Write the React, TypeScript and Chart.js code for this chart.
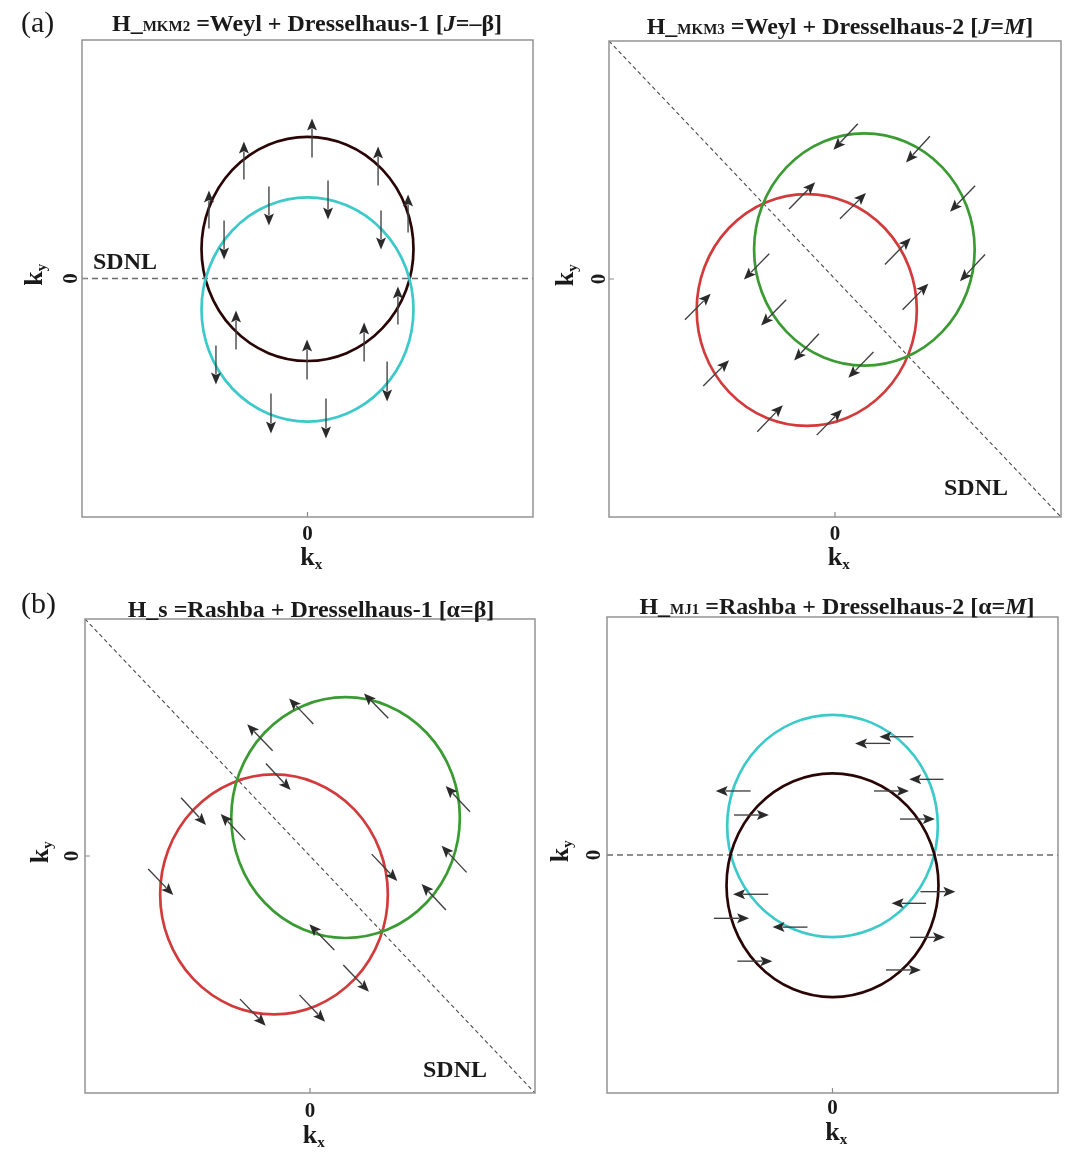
import React, { useEffect, useRef } from "react";
import { Chart, registerables } from "chart.js";

Chart.register(...registerables);

const FONT = '"Liberation Serif", "Times New Roman", serif';

// ---------- shared axis data ----------
const axisMin = -1;
const axisMax = 1;
const tickValues = [0];
const tickLabels = ["0"];
const xAxisTitle = ["k", "x"];
const yAxisTitle = ["k", "y"];
const sdnlText = "SDNL";

// ---------- panel (a) left: Weyl + Dresselhaus-1 ----------
const titleA: [string, string][] = [["H_", "n"], ["MKM2", "s"], [" =Weyl + Dresselhaus-1 [", "n"], ["J", "i"], ["=–β]", "n"]];
const circlesA: [number, number, number][] = [[0, 0.124, 0.47], [0, -0.13, 0.47]];
const sdnlA: [number, number][] = [[-1, 0], [1, 0]];
const arrowsA: [number, number, number, number][] = [
  [0.02, 0.507, 0.02, 0.671],
  [-0.282, 0.415, -0.282, 0.574],
  [0.313, 0.39, 0.313, 0.553],
  [-0.437, 0.21, -0.437, 0.369],
  [0.446, 0.193, 0.446, 0.352],
  [-0.171, 0.386, -0.171, 0.222],
  [0.091, 0.411, 0.091, 0.247],
  [-0.37, 0.243, -0.37, 0.08],
  [0.326, 0.285, 0.326, 0.122],
  [0.401, -0.193, 0.401, -0.034],
  [-0.317, -0.298, -0.317, -0.134],
  [0.251, -0.348, 0.251, -0.184],
  [-0.002, -0.423, -0.002, -0.256],
  [-0.406, -0.281, -0.406, -0.444],
  [0.353, -0.348, 0.353, -0.516],
  [-0.162, -0.482, -0.162, -0.65],
  [0.082, -0.503, 0.082, -0.671],
];

// ---------- panel (a) right: Weyl + Dresselhaus-2 ----------
const titleB: [string, string][] = [["H_", "n"], ["MKM3", "s"], [" =Weyl + Dresselhaus-2 [", "n"], ["J", "i"], ["=", "n"], ["M", "i"], ["]", "n"]];
const circlesB: [number, number, number][] = [[-0.125, -0.13, 0.487], [0.13, 0.124, 0.488]];
const sdnlB: [number, number][] = [[-1, 1], [1, -1]];
const arrowsB: [number, number, number, number][] = [
  [0.101, 0.652, -0.007, 0.543],
  [0.42, 0.6, 0.314, 0.49],
  [0.62, 0.392, 0.509, 0.283],
  [0.664, 0.103, 0.553, -0.009],
  [-0.291, 0.106, -0.403, -0.002],
  [-0.216, -0.087, -0.327, -0.195],
  [-0.071, -0.23, -0.181, -0.342],
  [0.17, -0.307, 0.059, -0.415],
  [-0.203, 0.294, -0.088, 0.406],
  [0.022, 0.253, 0.137, 0.361],
  [0.221, 0.061, 0.335, 0.172],
  [0.299, -0.129, 0.413, -0.02],
  [-0.664, -0.171, -0.55, -0.062],
  [-0.583, -0.45, -0.469, -0.341],
  [-0.344, -0.642, -0.231, -0.53],
  [-0.081, -0.656, 0.031, -0.548],
];

// ---------- panel (b) left: Rashba + Dresselhaus-1 ----------
const titleC: [string, string][] = [["H_s =Rashba + Dresselhaus-1 [α=β]", "n"]];
const circlesC: [number, number, number][] = [[-0.16, -0.162, 0.506], [0.158, 0.162, 0.508]];
const sdnlC: [number, number][] = [[-1, 1], [1, -1]];
const arrowsC: [number, number, number, number][] = [
  [0.348, 0.581, 0.24, 0.686],
  [0.015, 0.557, -0.093, 0.665],
  [-0.166, 0.444, -0.279, 0.556],
  [-0.288, 0.068, -0.397, 0.177],
  [0.711, 0.187, 0.603, 0.295],
  [0.696, -0.069, 0.585, 0.043],
  [0.604, -0.228, 0.496, -0.118],
  [0.108, -0.397, -0.003, -0.288],
  [-0.196, 0.39, -0.086, 0.278],
  [-0.573, 0.246, -0.462, 0.131],
  [-0.719, -0.055, -0.608, -0.165],
  [0.274, 0.008, 0.388, -0.105],
  [0.148, -0.46, 0.262, -0.573],
  [-0.047, -0.586, 0.067, -0.699],
  [-0.311, -0.604, -0.197, -0.716],
];

// ---------- panel (b) right: Rashba + Dresselhaus-2 ----------
const titleD: [string, string][] = [["H_", "n"], ["MJ1", "s"], [" =Rashba + Dresselhaus-2 [α=", "n"], ["M", "i"], ["]", "n"]];
const circlesD: [number, number, number][] = [[0, 0.122, 0.467], [0, -0.127, 0.47]];
const sdnlD: [number, number][] = [[-1, 0], [1, 0]];
const arrowsD: [number, number, number, number][] = [
  [0.255, 0.469, 0.1, 0.469],
  [0.359, 0.497, 0.208, 0.497],
  [0.492, 0.318, 0.34, 0.318],
  [-0.363, 0.269, -0.518, 0.269],
  [-0.285, -0.165, -0.441, -0.165],
  [0.415, -0.203, 0.262, -0.203],
  [-0.111, -0.303, -0.266, -0.303],
  [0.184, 0.269, 0.339, 0.269],
  [-0.437, 0.168, -0.282, 0.168],
  [0.299, 0.151, 0.454, 0.151],
  [0.39, -0.154, 0.545, -0.154],
  [-0.526, -0.266, -0.37, -0.266],
  [0.344, -0.346, 0.499, -0.346],
  [-0.422, -0.446, -0.267, -0.446],
  [0.237, -0.483, 0.392, -0.483],
];

// ---------- layout / style ----------
type Seg = { t: string; size: number; italic?: boolean; bold?: boolean; dy?: number };

interface Panel {
  box: { left: number; top: number; w: number; h: number };
  frame: { l: number; t: number; r: number; b: number };
  title: [string, string][];
  titlePos: [number, number];
  label?: { text: string; x: number; base: number };
  sdnlPos?: [number, number];
  circles: [number, number, number][];
  circleColors: string[];
  arrows: [number, number, number, number][];
  sdnl: [number, number][];
  dash: number[];
  dashWidth: number;
  dashColor: string;
  xZeroDy: number;
  kxDy: number;
  yZeroDx: number;
  kyDx: number;
}

const BLACK = "#2a0505";
const CYAN = "#3cc9c9";
const GREEN = "#3b9b33";
const RED = "#d23b3b";

const panels: Panel[] = [
  {
    box: { left: 0, top: 0, w: 540, h: 580 },
    frame: { l: 82, t: 40, r: 533, b: 517 },
    title: titleA,
    titlePos: [307, 31],
    label: { text: "(a)", x: 21, base: 32 },
    sdnlPos: [125, 269],
    circles: circlesA,
    circleColors: [BLACK, CYAN],
    arrows: arrowsA,
    sdnl: sdnlA,
    dash: [6, 4],
    dashWidth: 1.4,
    dashColor: "#6a6a6a",
    xZeroDy: 23,
    kxDy: 48,
    yZeroDx: -5,
    kyDx: -40,
  },
  {
    box: { left: 540, top: 0, w: 531, h: 580 },
    frame: { l: 609, t: 41, r: 1061, b: 517 },
    title: titleB,
    titlePos: [840, 34],
    sdnlPos: [976, 495],
    circles: circlesB,
    circleColors: [RED, GREEN],
    arrows: arrowsB,
    sdnl: sdnlB,
    dash: [4, 3],
    dashWidth: 1.1,
    dashColor: "#4a4a4a",
    xZeroDy: 23,
    kxDy: 48,
    yZeroDx: -4,
    kyDx: -36,
  },
  {
    box: { left: 0, top: 580, w: 540, h: 575 },
    frame: { l: 85, t: 619, r: 535, b: 1093 },
    title: titleC,
    titlePos: [311, 617],
    label: { text: "(b)", x: 21, base: 613 },
    sdnlPos: [455, 1077],
    circles: circlesC,
    circleColors: [RED, GREEN],
    arrows: arrowsC,
    sdnl: sdnlC,
    dash: [4, 3],
    dashWidth: 1.1,
    dashColor: "#4a4a4a",
    xZeroDy: 24,
    kxDy: 50,
    yZeroDx: -7,
    kyDx: -37,
  },
  {
    box: { left: 540, top: 580, w: 531, h: 575 },
    frame: { l: 607, t: 617, r: 1058, b: 1093 },
    title: titleD,
    titlePos: [837, 614],
    circles: circlesD,
    circleColors: [CYAN, BLACK],
    arrows: arrowsD,
    sdnl: sdnlD,
    dash: [6, 4],
    dashWidth: 1.4,
    dashColor: "#6a6a6a",
    xZeroDy: 21,
    kxDy: 47,
    yZeroDx: -7,
    kyDx: -39,
  },
];

function fontOf(s: Seg) {
  return `${s.italic ? "italic " : ""}${s.bold === false ? "" : "bold "}${s.size}px ${FONT}`;
}

function drawRich(
  ctx: CanvasRenderingContext2D,
  segs: Seg[],
  x: number,
  y: number,
  anchor: "center" | "first" | "left",
  rotate = false
) {
  const widths = segs.map((s) => {
    ctx.font = fontOf(s);
    return ctx.measureText(s.t).width;
  });
  const total = widths.reduce((a, b) => a + b, 0);
  let start = 0;
  if (anchor === "center") start = -total / 2;
  else if (anchor === "first") start = -widths[0] / 2;
  ctx.save();
  ctx.translate(x, y);
  if (rotate) ctx.rotate(-Math.PI / 2);
  ctx.fillStyle = "#1a1a1a";
  ctx.textBaseline = "alphabetic";
  ctx.textAlign = "left";
  let cx = start;
  segs.forEach((s, i) => {
    ctx.font = fontOf(s);
    ctx.fillText(s.t, cx, s.dy ?? 0);
    cx += widths[i];
  });
  ctx.restore();
}

function titleSegs(parts: [string, string][]): Seg[] {
  return parts.map(([t, k]) => ({
    t,
    size: k === "s" ? 15 : 24,
    italic: k === "i",
  }));
}

function makePlugin(p: Panel) {
  const ox = p.box.left;
  const oy = p.box.top;
  return {
    id: "panelDecor",
    afterDatasetsDraw(chart: any) {
      const ctx: CanvasRenderingContext2D = chart.ctx;
      const xs = chart.scales.x;
      const ys = chart.scales.y;
      // circles
      p.circles.forEach(([cx, cy, r], i) => {
        const px = xs.getPixelForValue(cx);
        const py = ys.getPixelForValue(cy);
        const rx = Math.abs(xs.getPixelForValue(cx + r) - px);
        const ry = Math.abs(ys.getPixelForValue(cy + r) - py);
        ctx.save();
        ctx.beginPath();
        ctx.ellipse(px, py, rx, ry, 0, 0, Math.PI * 2);
        ctx.strokeStyle = p.circleColors[i];
        ctx.lineWidth = 2.7;
        ctx.stroke();
        ctx.restore();
      });
      // arrows
      p.arrows.forEach(([ax0, ay0, ax1, ay1]) => {
        const x0 = xs.getPixelForValue(ax0);
        const y0 = ys.getPixelForValue(ay0);
        const x1 = xs.getPixelForValue(ax1);
        const y1 = ys.getPixelForValue(ay1);
        const ang = Math.atan2(y1 - y0, x1 - x0);
        const head = 12;
        const hw = 5;
        const c = Math.cos(ang);
        const s = Math.sin(ang);
        const bx = x1 - head * c;
        const by = y1 - head * s;
        ctx.save();
        ctx.strokeStyle = "#3f3f3f";
        ctx.fillStyle = "#2a2a2a";
        ctx.lineWidth = 1.35;
        ctx.beginPath();
        ctx.moveTo(x0, y0);
        ctx.lineTo(bx + 2 * c, by + 2 * s);
        ctx.stroke();
        ctx.beginPath();
        ctx.moveTo(x1, y1);
        ctx.lineTo(bx - hw * s, by + hw * c);
        ctx.lineTo(bx + 2.5 * c, by + 2.5 * s);
        ctx.lineTo(bx + hw * s, by - hw * c);
        ctx.closePath();
        ctx.fill();
        ctx.restore();
      });
    },
    afterDraw(chart: any) {
      const ctx: CanvasRenderingContext2D = chart.ctx;
      const a = chart.chartArea;
      const xs = chart.scales.x;
      const ys = chart.scales.y;
      ctx.save();
      // frame
      ctx.strokeStyle = "#8c8c8c";
      ctx.lineWidth = 1.4;
      ctx.strokeRect(a.left, a.top, a.right - a.left, a.bottom - a.top);
      // inward ticks at zero
      ctx.lineWidth = 1.2;
      tickValues.forEach((v) => {
        const tx = xs.getPixelForValue(v);
        const ty = ys.getPixelForValue(v);
        ctx.beginPath();
        ctx.moveTo(tx, a.bottom);
        ctx.lineTo(tx, a.bottom - 5);
        ctx.moveTo(a.left, ty);
        ctx.lineTo(a.left + 5, ty);
        ctx.stroke();
      });
      ctx.restore();

      // tick labels and axis titles
      tickValues.forEach((v, i) => {
        const tx = xs.getPixelForValue(v);
        const ty = ys.getPixelForValue(v);
        drawRich(ctx, [{ t: tickLabels[i], size: 21 }], tx, a.bottom + p.xZeroDy, "center");
        drawRich(ctx, [{ t: tickLabels[i], size: 21 }], a.left + p.yZeroDx, ty, "center", true);
        drawRich(
          ctx,
          [
            { t: xAxisTitle[0], size: 26 },
            { t: xAxisTitle[1], size: 15, dy: 4 },
          ],
          tx,
          a.bottom + p.kxDy,
          "first"
        );
        drawRich(
          ctx,
          [
            { t: yAxisTitle[0], size: 26 },
            { t: yAxisTitle[1], size: 15, dy: 4 },
          ],
          a.left + p.kyDx,
          ty,
          "first",
          true
        );
      });

      // title
      drawRich(ctx, titleSegs(p.title), p.titlePos[0] - ox, p.titlePos[1] - oy, "center");
      if (p.label) {
        drawRich(ctx, [{ t: p.label.text, size: 30, bold: false }], p.label.x - ox, p.label.base - oy, "left");
      }
      if (p.sdnlPos) {
        drawRich(ctx, [{ t: sdnlText, size: 24 }], p.sdnlPos[0] - ox, p.sdnlPos[1] - oy, "center");
      }
    },
  };
}

function PanelChart({ p }: { p: Panel }) {
  const ref = useRef<HTMLCanvasElement>(null);
  useEffect(() => {
    const canvas = ref.current;
    if (!canvas) return;
    const chart = new Chart(canvas, {
      type: "scatter",
      data: {
        datasets: [
          {
            label: "SDNL",
            data: p.sdnl.map(([x, y]) => ({ x, y })),
            showLine: true,
            borderColor: p.dashColor,
            borderWidth: p.dashWidth,
            borderDash: p.dash,
            pointRadius: 0,
            fill: false,
          },
        ],
      },
      options: {
        responsive: false,
        maintainAspectRatio: false,
        animation: false,
        events: [],
        layout: {
          padding: {
            left: p.frame.l - p.box.left,
            top: p.frame.t - p.box.top,
            right: p.box.left + p.box.w - p.frame.r,
            bottom: p.box.top + p.box.h - p.frame.b,
          },
        },
        plugins: {
          legend: { display: false },
          tooltip: { enabled: false },
          title: { display: false },
        },
        scales: {
          x: { type: "linear", min: axisMin, max: axisMax, display: false },
          y: { type: "linear", min: axisMin, max: axisMax, display: false },
        },
      },
      plugins: [makePlugin(p)],
    } as any);
    return () => chart.destroy();
  }, [p]);
  return (
    <canvas
      ref={ref}
      width={p.box.w}
      height={p.box.h}
      style={{ position: "absolute", left: p.box.left, top: p.box.top, width: p.box.w, height: p.box.h }}
    />
  );
}

export default function App() {
  return (
    <div style={{ position: "absolute", left: 0, top: 0, width: 1071, height: 1155, background: "#ffffff", overflow: "hidden" }}>
      {panels.map((p, i) => (
        <PanelChart key={i} p={p} />
      ))}
    </div>
  );
}
